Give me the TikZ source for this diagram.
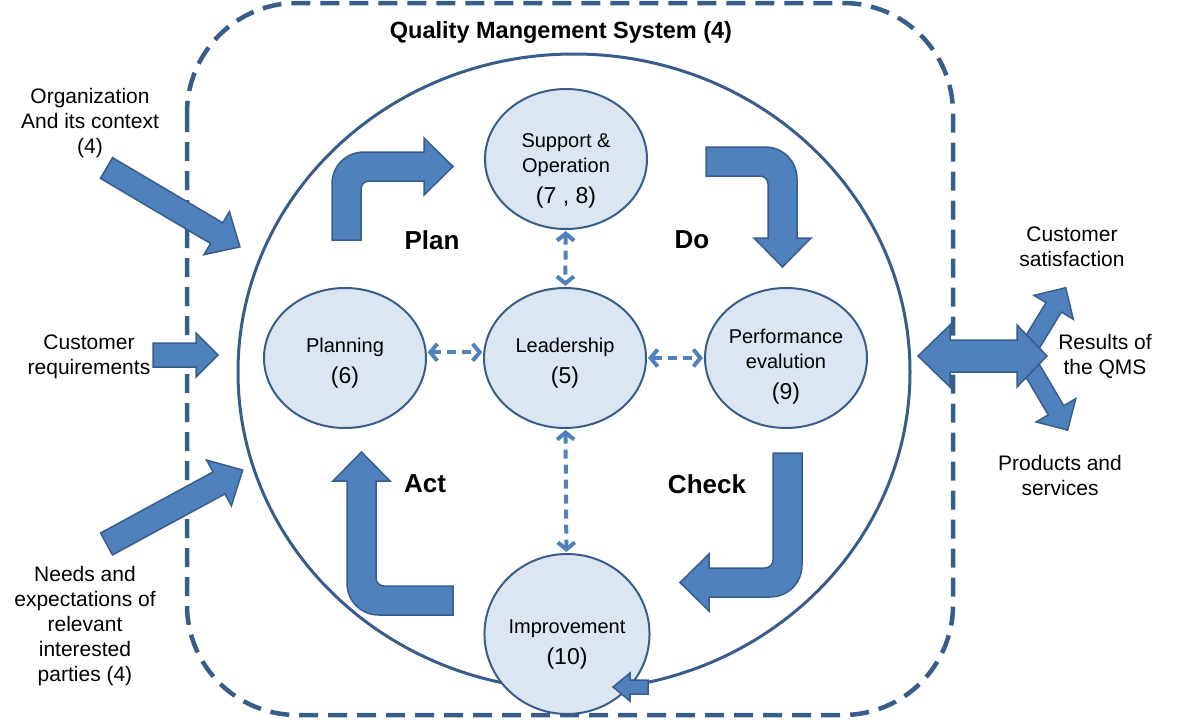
\documentclass[tikz,border=0pt]{standalone}
\usepackage{fontspec}
\setmainfont{Liberation Sans}
\usetikzlibrary{arrows.meta,shapes.geometric}
\definecolor{qmsblue}{HTML}{4F81BD}
\definecolor{qmsdark}{HTML}{385D8A}
\definecolor{qmslight}{HTML}{DCE6F2}
\newcommand{\nlbl}[1]{{\fontsize{23}{28}\selectfont #1}}
\newcommand{\vdrop}[1]{\rule{0pt}{\dimexpr15pt+#1pt\relax}}% pushes text down by #1/2
% bent block arrow: corner, rotation, tail leg, tip leg
\newcommand{\bentarrow}[4]{
  \begin{scope}[shift={#1},rotate=#2]
    \draw[blockarrow] (0,#3) -- (0,32) .. controls (0,14) and (14,0) .. (32,0)
      -- (#4-29,0) -- (#4-29,-14) -- (#4,14.5) -- (#4-29,43) -- (#4-29,29)
      -- (37,29) .. controls (32.6,29) and (29,32.6) .. (29,37) -- (29,#3) -- cycle;
  \end{scope}
}
% straight block arrow: tail, angle, length, half width, head half width, head length
\newcommand{\straightarrow}[6]{
  \begin{scope}[shift={#1},rotate=#2]
    \draw[blockarrow] (0,-#4) -- (#3-#6,-#4) -- (#3-#6,-#5) -- (#3,0)
      -- (#3-#6,#5) -- (#3-#6,#4) -- (0,#4) -- cycle;
  \end{scope}
}

\begin{document}
\begin{tikzpicture}[x=1pt,y=-1pt,
    blockarrow/.style={fill=qmsblue,draw=qmsdark,line width=1.5pt},
    proc/.style={ellipse,draw=qmsdark,fill=qmslight,line width=2pt,minimum width=162,
      minimum height=140,inner sep=0pt,align=center,font=\fontsize{20}{25}\selectfont},
    link/.style={draw=qmsblue,line width=4pt,dash pattern=on 9pt off 6pt,
      {Straight Barb[length=7pt,width=17pt]}-{Straight Barb[length=7pt,width=17pt]},
      shorten >=1pt,shorten <=1pt},
    txt/.style={align=center,font=\fontsize{21}{25}\selectfont},
    pdca/.style={font=\fontsize{26}{30}\selectfont\bfseries}]
  \useasboundingbox (0,0) rectangle (1192,720);

  % system boundary and cycle
  \draw[qmsdark,line width=4.5pt,dash pattern=on 19pt off 10pt,rounded corners=110pt]
    (187,3) rectangle (953,715);
  \draw[qmsdark,line width=3pt] (574,372) ellipse [x radius=336, y radius=318];

  \node[font=\fontsize{23.5}{28}\selectfont\bfseries] (title) at (561,32) {Quality Mangement System (4)};

  \node[proc] (sup) at (566,159) {\vdrop{22}Support \&\\Operation\\[6pt]\nlbl{(7 , 8)}};
  \node[proc] (plan) at (345,358) {\vdrop{10}Planning\\[6pt]\nlbl{(6)}};
  \node[proc] (lead) at (565,358) {\vdrop{10}Leadership\\[6pt]\nlbl{(5)}};
  \node[proc] (perf) at (786,358) {\vdrop{16}Performance\\evalution\\[6pt]\nlbl{(9)}};
  \node[proc,minimum width=160,minimum height=160] (impr) at (567,634) {\vdrop{20}Improvement\\[6pt]\nlbl{(10)}};

  \draw[blockarrow] (648,680) -- (630,680) -- (630,673) -- (613,687) -- (630,701) -- (630,694) -- (648,694) -- cycle;

  \draw[link] (sup) -- (lead);
  \draw[link] (plan.4) -- (lead.176);
  \draw[link] (lead) -- (perf);
  \draw[link] (lead) -- (impr);

  % plan - do - check - act
  \bentarrow{(332,152)}{0}{88}{121}
  \bentarrow{(797,147)}{-90}{91}{120}
  \bentarrow{(802,597)}{180}{144}{122}
  \bentarrow{(347,615)}{90}{106}{163}

  \node[pdca] (plantxt) at (432,240) {Plan};
  \node[pdca] (dotxt) at (692,240) {Do};
  \node[pdca] (checktxt) at (707,484) {Check};
  \node[pdca] (acttxt) at (425,484) {Act};

  % inputs
  \straightarrow{(106.5,168)}{-30.6}{155}{12}{25}{27}
  \straightarrow{(153,355)}{0}{65}{12}{22}{22}
  \straightarrow{(106.5,544)}{28.5}{155}{12.5}{26}{27}

  \node[txt] (org) at (90,123) {Organization\\And its context\\(4)};
  \node[txt] (custreq) at (89,357) {Customer\\requirements};
  \node[txt] (needs) at (85,626) {Needs and\\expectations of\\relevant\\interested\\parties (4)};

  % results
  \straightarrow{(1024,356)}{58.6}{80}{9}{23}{23}
  \straightarrow{(1024,356)}{-59.5}{86}{9}{23}{23}
  \draw[blockarrow] (918,356) -- (950,325) -- (950,340) -- (1017,340) -- (1017,325) -- (1047,356)
    -- (1017,387) -- (1017,372) -- (950,372) -- (950,387) -- cycle;

  \node[txt] (custsat) at (1072,247) {Customer\\satisfaction};
  \node[txt] (results) at (1105,356) {Results of\\the QMS};
  \node[txt] (products) at (1060,475) {Products and\\services};
\end{tikzpicture}
\end{document}
